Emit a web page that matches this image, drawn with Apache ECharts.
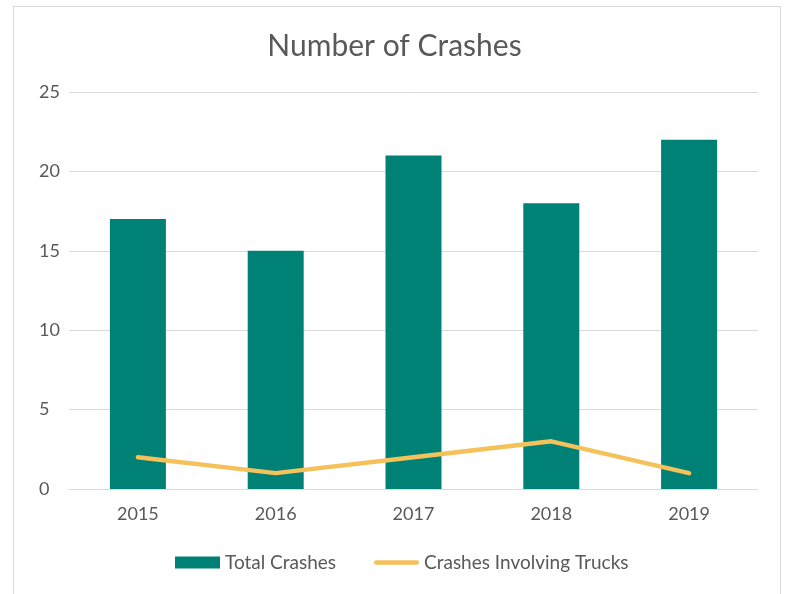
<!DOCTYPE html>
<html>
<head>
<meta charset="utf-8">
<script src="https://cdn.jsdelivr.net/npm/echarts@6/dist/echarts.min.js"></script>
<style>
  html, body { margin: 0; padding: 0; background: #fff; }
  #frame {
    position: absolute; left: 13px; top: 6px; width: 768px; height: 600px;
    border: 1px solid #d9d9d9; box-sizing: border-box;
  }
  #chart { position: absolute; left: 0; top: 0; width: 789px; height: 594px; }
</style>
</head>
<body>
<div id="frame"></div>
<div id="chart"></div>
<script>
// chart data
const years = ['2015', '2016', '2017', '2018', '2019']
const totalCrashes = [17, 15, 21, 18, 22]
const truckCrashes = [2, 1, 2, 3, 1]

const textColor = '#595959'
const font = 'Lato, "Open Sans", sans-serif'

const chart = echarts.init(document.getElementById('chart'))

chart.setOption({
  animation: false,
  title: {
    text: 'Number of Crashes',
    left: 'center',
    top: 26,
    textStyle: { color: textColor, fontSize: 30, fontWeight: 'normal', fontFamily: font }
  },
  grid: { left: 69, right: 31, top: 92, bottom: 105, containLabel: false },
  legend: {
    bottom: 22,
    left: 175,
    padding: 0,
    itemWidth: 45,
    itemHeight: 12,
    itemGap: 38,
    textStyle: { color: textColor, fontSize: 19, fontFamily: font },
    data: [
      { name: 'Total Crashes', icon: 'rect' },
      { name: 'Crashes Involving Trucks', icon: 'path://M5,0 L95,0 A5,5 0 0 1 95,10 L5,10 A5,5 0 0 1 5,0 Z' }
    ]
  },
  xAxis: {
    type: 'category',
    data: years,
    axisLine: { lineStyle: { color: '#d9d9d9', width: 1 } },
    axisTick: { show: false },
    axisLabel: { color: textColor, fontSize: 18, fontFamily: font, margin: 16 }
  },
  yAxis: {
    type: 'value',
    min: 0,
    max: 25,
    interval: 5,
    axisLine: { show: false },
    axisTick: { show: false },
    axisLabel: { color: textColor, fontSize: 18, fontFamily: font, margin: 30, align: 'left' },
    splitLine: { lineStyle: { color: '#d9d9d9', width: 1 } }
  },
  series: [
    {
      name: 'Total Crashes',
      type: 'bar',
      data: totalCrashes,
      barWidth: 56,
      itemStyle: { color: '#008176' }
    },
    {
      name: 'Crashes Involving Trucks',
      type: 'line',
      data: truckCrashes,
      symbol: 'none',
      lineStyle: { color: '#f4c15a', width: 4.5, cap: 'round', join: 'round' },
      itemStyle: { color: '#f4c15a' }
    }
  ]
})
</script>
</body>
</html>
